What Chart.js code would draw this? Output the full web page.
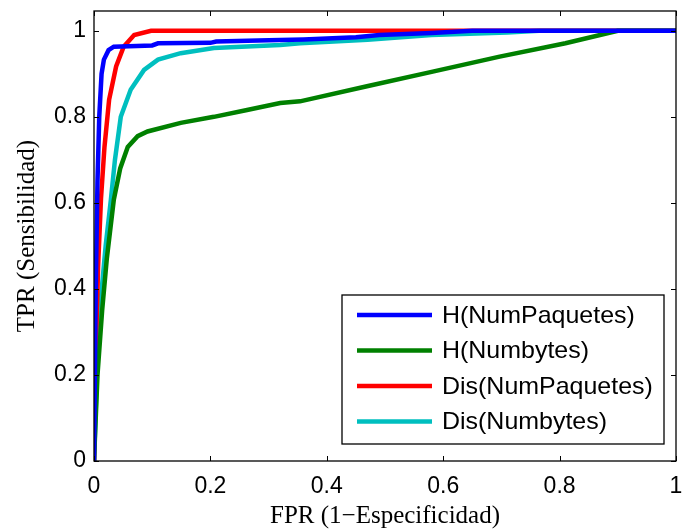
<!doctype html>
<html lang="es">
<head>
<meta charset="utf-8">
<title>Curvas ROC</title>
<script src="https://cdn.jsdelivr.net/npm/chart.js@4/dist/chart.umd.min.js"></script>
<style>
    html, body { margin: 0; padding: 0; background: #fff; }
    #holder { width: 682px; height: 531px; }
</style>
</head>
<body>
<div id="holder"><canvas id="roc"></canvas></div>
<script>
    // series labels + colours
    var labels = ["H(NumPaquetes)", "H(Numbytes)", "Dis(NumPaquetes)", "Dis(Numbytes)"];
    var colors = ["#0000ff", "#008000", "#ff0000", "#00bfbf"];

    // values (FPR, TPR)
    var hPaqFpr = [0, 0.003, 0.006, 0.009, 0.013, 0.017, 0.025, 0.034, 0.1, 0.11, 0.2, 0.21, 0.3, 0.36, 0.45, 0.49, 0.58, 0.65, 1];
    var hPaqTpr = [0, 0.4, 0.65, 0.8, 0.9, 0.933, 0.955, 0.963, 0.966, 0.971, 0.972, 0.975, 0.978, 0.98, 0.985, 0.99, 0.995, 1, 1];

    var hBytFpr = [0, 0.006, 0.014, 0.022, 0.034, 0.045, 0.058, 0.075, 0.092, 0.149, 0.206, 0.263, 0.32, 0.354, 0.469, 0.582, 0.697, 0.81, 0.9, 1];
    var hBytTpr = [0, 0.2, 0.35, 0.47, 0.607, 0.68, 0.73, 0.755, 0.766, 0.786, 0.8, 0.816, 0.832, 0.836, 0.871, 0.905, 0.94, 0.971, 1, 1];

    var dPaqFpr = [0, 0.003, 0.007, 0.012, 0.018, 0.026, 0.038, 0.051, 0.069, 0.098, 1];
    var dPaqTpr = [0, 0.25, 0.45, 0.61, 0.73, 0.84, 0.917, 0.963, 0.99, 1, 1];

    var dBytFpr = [0, 0.005, 0.012, 0.02, 0.029, 0.036, 0.046, 0.063, 0.086, 0.11, 0.149, 0.206, 0.32, 0.354, 0.47, 0.58, 0.71, 0.765, 1];
    var dBytTpr = [0, 0.2, 0.38, 0.5, 0.607, 0.7, 0.8, 0.863, 0.909, 0.933, 0.948, 0.96, 0.967, 0.971, 0.979, 0.99, 0.996, 1, 1];

    var xTicks = [0, 0.2, 0.4, 0.6, 0.8, 1];
    var yTicks = [0, 0.2, 0.4, 0.6, 0.8, 1];

    function pts(xs, ys) {
        var out = [];
        for (var i = 0; i < xs.length; i++) out.push({x: xs[i], y: ys[i]});
        return out;
    }

    var series = [pts(hPaqFpr, hPaqTpr), pts(hBytFpr, hBytTpr), pts(dPaqFpr, dPaqTpr), pts(dBytFpr, dBytTpr)];

    // box round the plot with inward ticks, matlab style
    var boxPlugin = {
        id: "box",
        afterDatasetsDraw: function(chart) {
            var ctx = chart.ctx, a = chart.chartArea;
            var xs = chart.scales.x, ys = chart.scales.y;
            var len = 5;
            ctx.save();
            ctx.strokeStyle = "#000";
            ctx.lineWidth = 1;
            ctx.beginPath();
            xTicks.forEach(function(v) {
                var px = Math.round(xs.getPixelForValue(v)) + 0.5;
                ctx.moveTo(px, a.bottom); ctx.lineTo(px, a.bottom - len);
                ctx.moveTo(px, a.top); ctx.lineTo(px, a.top + len);
            });
            yTicks.forEach(function(v) {
                var py = Math.round(ys.getPixelForValue(v)) + 0.5;
                ctx.moveTo(a.left, py); ctx.lineTo(a.left + len, py);
                ctx.moveTo(a.right, py); ctx.lineTo(a.right - len, py);
            });
            ctx.stroke();
            ctx.lineWidth = 1.3;
            ctx.strokeRect(a.left, a.top, a.right - a.left, a.bottom - a.top);
            ctx.restore();
        }
    };

    // legend drawn inside the plot, lower right
    var legendPlugin = {
        id: "inLegend",
        afterDraw: function(chart) {
            var ctx = chart.ctx, a = chart.chartArea;
            var w = 322, h = 149;
            var x0 = a.right - 12 - w, y0 = a.bottom - 17 - h;
            ctx.save();
            ctx.fillStyle = "#fff";
            ctx.fillRect(x0, y0, w, h);
            ctx.strokeStyle = "#000";
            ctx.lineWidth = 1.3;
            ctx.strokeRect(x0, y0, w, h);
            ctx.font = "24px 'Liberation Sans', Arial, sans-serif";
            ctx.textBaseline = "middle";
            chart.data.datasets.forEach(function(ds, i) {
                var yy = y0 + 20 + i * 35.5;
                ctx.strokeStyle = ds.borderColor;
                ctx.lineWidth = 4.5;
                ctx.beginPath();
                ctx.moveTo(x0 + 15, yy);
                ctx.lineTo(x0 + 90, yy);
                ctx.stroke();
                ctx.fillStyle = "#000";
                ctx.save();
                ctx.translate(x0 + 100, yy + 1);
                ctx.scale(1.04, 1);
                ctx.fillText(ds.label, 0, 0);
                ctx.restore();
            });
            ctx.restore();
        }
    };

    var datasets = series.map(function(d, i) {
        return {
            label: labels[i],
            data: d,
            borderColor: colors[i],
            backgroundColor: colors[i],
            borderWidth: 4.5,
            pointRadius: 0,
            tension: 0,
            fill: false
        };
    });

    var tickFont = {family: "'Liberation Sans', Arial, sans-serif", size: 23};
    var titleFont = {family: "'Liberation Serif', 'Times New Roman', serif", size: 25};

    new Chart(document.getElementById("roc").getContext("2d"), {
        type: "line",
        data: {datasets: datasets},
        options: {
            responsive: true,
            maintainAspectRatio: false,
            animation: false,
            layout: {padding: {top: 11, right: 6, left: 0, bottom: 0}},
            plugins: {legend: {display: false}, tooltip: {enabled: false}},
            scales: {
                x: {
                    type: "linear",
                    min: 0, max: 1,
                    afterBuildTicks: function(s) { s.ticks = xTicks.map(function(v) { return {value: v}; }); },
                    afterFit: function(s) { s.height = 70; s.paddingLeft = 0; s.paddingRight = 0; },
                    grid: {display: false, drawTicks: false},
                    border: {display: false},
                    ticks: {color: "#000", font: tickFont, padding: 12, maxRotation: 0,
                        callback: function(v) { return String(v); }},
                    title: {display: true, text: "FPR (1\u2212Especificidad)", color: "#000", font: titleFont, padding: {top: 0, bottom: 0}}
                },
                y: {
                    type: "linear",
                    min: 0, max: 1.046,
                    afterBuildTicks: function(s) { s.ticks = yTicks.map(function(v) { return {value: v}; }); },
                    afterFit: function(s) { s.width = 94; s.paddingTop = 0; s.paddingBottom = 0; },
                    grid: {display: false, drawTicks: false},
                    border: {display: false},
                    ticks: {color: "#000", font: tickFont, padding: 8,
                        callback: function(v) { return String(v); }},
                    title: {display: true, text: "TPR (Sensibilidad)", color: "#000", font: titleFont, padding: {top: 12, bottom: 0}}
                }
            }
        },
        plugins: [boxPlugin, legendPlugin]
    });
</script>
</body>
</html>
